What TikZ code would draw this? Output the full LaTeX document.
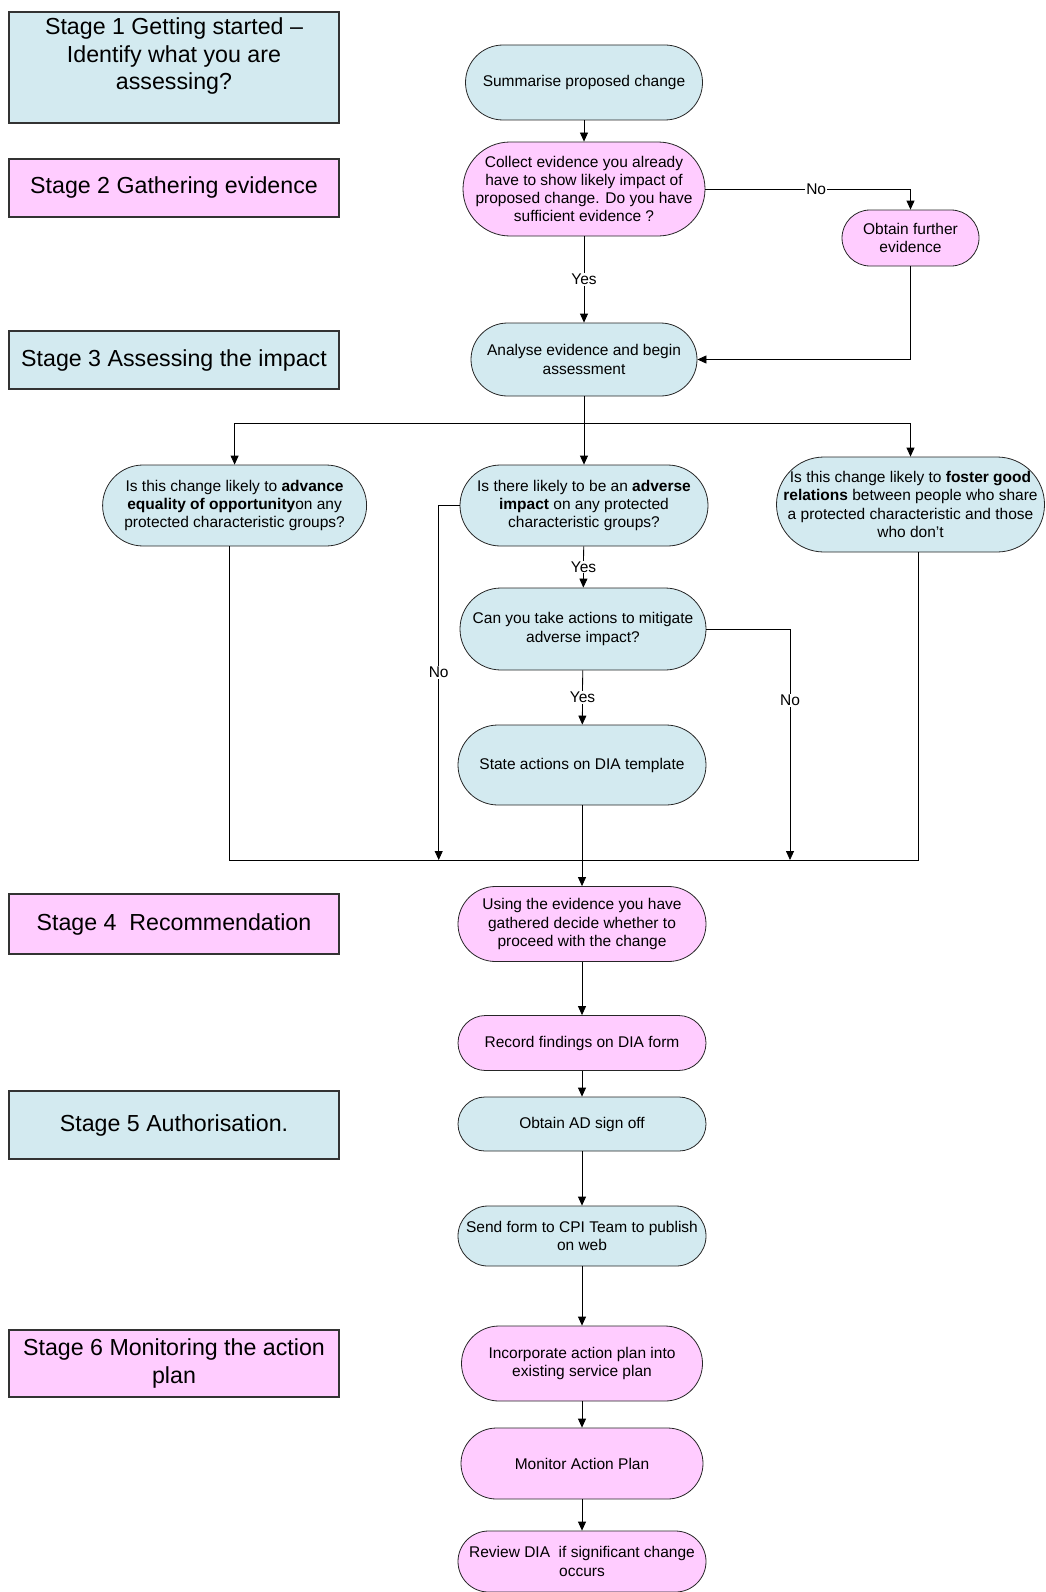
\documentclass[tikz,border=0pt]{standalone}
\usepackage{fontspec}
\setmainfont{Liberation Sans}
\usepackage{tikz}
\usetikzlibrary{shapes,arrows,arrows.meta,positioning}

\definecolor{DiaBlue}{RGB}{211,234,240}
\definecolor{DiaPink}{RGB}{255,204,255}

\begin{document}
\begin{tikzpicture}[x=1pt, y=-1pt]
	\tikzstyle{Stage}	= [rectangle, draw=black!80, line width=1.1pt, minimum width=330, inner sep=0pt, align=center, font=\fontsize{23.2}{27.4}\selectfont]
	\tikzstyle{Term}	= [rectangle, draw=black!85, line width=0.8pt, inner sep=0pt, align=center, font=\fontsize{15.5}{18.3}\selectfont]
	\tikzstyle{Blue}	= [fill=DiaBlue]
	\tikzstyle{Pink}	= [fill=DiaPink]
	\tikzstyle{Flow}	= [line width=0.8pt, -{Triangle[width=8pt,length=9pt]}]
	\tikzstyle{Line}	= [line width=0.8pt]
	\tikzstyle{Answer}	= [fill=white, inner sep=1pt, font=\fontsize{15.5}{18.3}\selectfont]

	\useasboundingbox (0,0) rectangle (1045,1592);

	% stages on the left
	\node (s1) at (174, 67.5) [Stage][Blue, minimum height=111] {Stage 1 Getting started –\\ Identify what you are\\ assessing?\\ \mbox{}};
	\node (s2) at (174, 188) [Stage][Pink, minimum height=58] {Stage 2 Gathering evidence};
	\node (s3) at (174, 360) [Stage][Blue, minimum height=58] {Stage 3 Assessing the impact};
	\node (s4) at (174, 924) [Stage][Pink, minimum height=60] {Stage 4 \ Recommendation};
	\node (s5) at (174, 1125) [Stage][Blue, minimum height=68] {Stage 5 Authorisation.};
	\node (s6) at (174, 1363.5) [Stage][Pink, minimum height=67] {Stage 6 Monitoring the action\\ plan};

	% flow
	\node (sum) at (584, 82.5) [Term][Blue, minimum width=237, minimum height=75, rounded corners=37.5] {Summarise proposed change};
	\node (collect) at (584, 189) [Term][Pink, minimum width=242, minimum height=94, rounded corners=47] {Collect evidence you already\\ have to show likely impact of\\ proposed change. Do you have\\ sufficient evidence ?};
	\node (further) at (910.5, 238) [Term][Pink, minimum width=137, minimum height=56, rounded corners=28] {Obtain further\\ evidence};
	\node (analyse) at (584, 359.5) [Term][Blue, minimum width=226, minimum height=73, rounded corners=36.5] {Analyse evidence and begin\\ assessment};
	\node (advance) at (234.6, 505.5) [Term][Blue, minimum width=264, minimum height=81, rounded corners=40.5] {Is this change likely to \textbf{advance}\\ \textbf{equality of opportunity}on any\\ protected characteristic groups?};
	\node (adverse) at (584, 505.5) [Term][Blue, minimum width=248, minimum height=81, rounded corners=40.5] {Is there likely to be an \textbf{adverse}\\ \textbf{impact} on any protected\\ characteristic groups?};
	\node (foster) at (910.5, 504.5) [Term][Blue, minimum width=268, minimum height=95, rounded corners=47.5] {Is this change likely to \textbf{foster good}\\ \textbf{relations} between people who share\\ a protected characteristic and those\\ who don't};
	\node (mitigate) at (583, 629) [Term][Blue, minimum width=246, minimum height=82, rounded corners=41] {Can you take actions to mitigate\\ adverse impact?};
	\node (state) at (582, 765) [Term][Blue, minimum width=248, minimum height=80, rounded corners=40] {State actions on DIA template};
	\node (using) at (582, 924) [Term][Pink, minimum width=248, minimum height=75, rounded corners=37.5] {Using the evidence you have\\ gathered decide whether to\\ proceed with the change};
	\node (record) at (582, 1043) [Term][Pink, minimum width=248, minimum height=55, rounded corners=27.5] {Record findings on DIA form};
	\node (signoff) at (582, 1124) [Term][Blue, minimum width=248, minimum height=54, rounded corners=27] {Obtain AD sign off};
	\node (send) at (582, 1236) [Term][Blue, minimum width=248, minimum height=60, rounded corners=30] {Send form to CPI Team to publish\\ on web};
	\node (incorp) at (582, 1363.5) [Term][Pink, minimum width=241, minimum height=75, rounded corners=37.5] {Incorporate action plan into\\ existing service plan};
	\node (monitor) at (582, 1463.5) [Term][Pink, minimum width=242, minimum height=71, rounded corners=35.5] {Monitor Action Plan};
	\node (review) at (582, 1561.5) [Term][Pink, minimum width=248, minimum height=61, rounded corners=30.5] {Review DIA \ if significant change\\ occurs};

	\coordinate (branch) at (584, 423.5);
	\coordinate (noLeft) at (438.7, 860);
	\coordinate (noRight) at (790, 860);
	\coordinate (joinL) at (229.6, 860);
	\coordinate (joinR) at (918, 860);

	\draw [Flow] (sum) -- (collect);
	\draw [Flow] (collect) -| node [Answer, pos=0.27] {No} (further);
	\draw [Flow] (collect) -- node [Answer] {Yes} (analyse);
	\draw [Flow] (further) |- (analyse);
	\draw [Flow] (analyse) -- (adverse);
	\draw [Flow] (branch) -| (advance);
	\draw [Flow] (branch) -| (foster);
	\draw [Flow] (adverse) -- node [Answer] {Yes} (mitigate);
	\draw [Flow] (mitigate) -- node [Answer] {Yes} (state);
	\draw [Flow] (adverse) -| node [Answer, pos=0.735] {No} (noLeft);
	\draw [Flow] (mitigate) -| node [Answer, pos=0.655] {No} (noRight);
	\draw [Line] ([xshift=-5]advance.south) -- (joinL) -- (joinR) -- ([xshift=7.5]foster.south);
	\draw [Flow] (state) -- (using);
	\draw [Flow] (using) -- (record);
	\draw [Flow] (record) -- (signoff);
	\draw [Flow] (signoff) -- (send);
	\draw [Flow] (send) -- (incorp);
	\draw [Flow] (incorp) -- (monitor);
	\draw [Flow] (monitor) -- (review);
\end{tikzpicture}
\end{document}
